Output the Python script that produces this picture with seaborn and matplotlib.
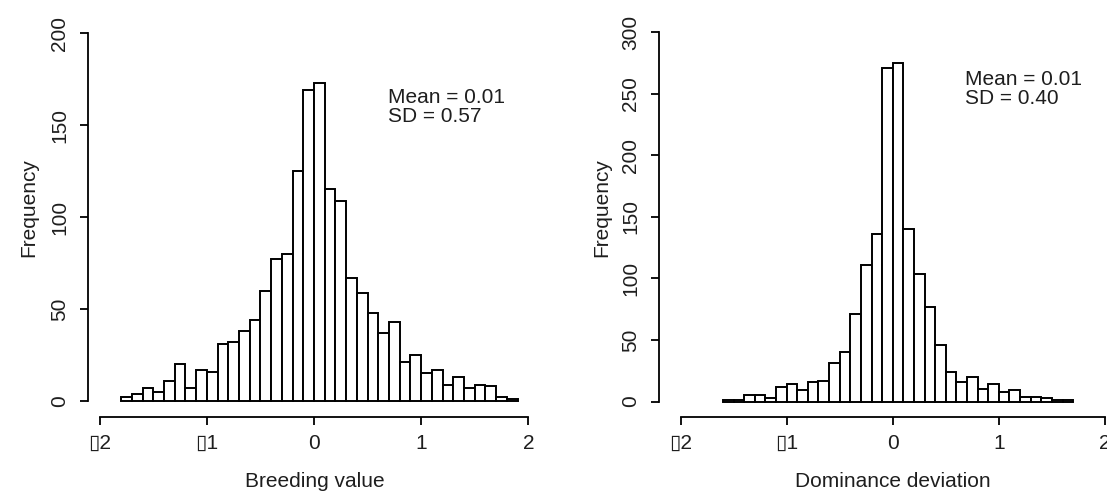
import numpy as np
import matplotlib
matplotlib.use("Agg")
import matplotlib.pyplot as plt
import seaborn as sns

# histogram counts (bin width 0.1, lower edges listed)
breeding_bins = [-1.8, -1.7, -1.6, -1.5, -1.4, -1.3, -1.2, -1.1, -1.0, -0.9,
                 -0.8, -0.7, -0.6, -0.5, -0.4, -0.3, -0.2, -0.1, 0.0, 0.1,
                 0.2, 0.3, 0.4, 0.5, 0.6, 0.7, 0.8, 0.9, 1.0, 1.1,
                 1.2, 1.3, 1.4, 1.5, 1.6, 1.7, 1.8]
breeding_counts = [2, 4, 7, 5, 11, 20, 7, 17, 16, 31,
                   32, 38, 44, 60, 77, 80, 125, 169, 173, 115,
                   109, 67, 59, 48, 37, 43, 21, 25, 15, 17,
                   9, 13, 7, 9, 8, 2, 1]

dominance_bins = [-1.6, -1.5, -1.4, -1.3, -1.2, -1.1, -1.0, -0.9, -0.8, -0.7,
                  -0.6, -0.5, -0.4, -0.3, -0.2, -0.1, 0.0, 0.1, 0.2, 0.3,
                  0.4, 0.5, 0.6, 0.7, 0.8, 0.9, 1.0, 1.1, 1.2, 1.3,
                  1.4, 1.5, 1.6]
dominance_counts = [1, 1, 5, 5, 3, 12, 14, 9, 16, 17,
                    31, 40, 71, 111, 136, 271, 275, 140, 104, 77,
                    46, 24, 16, 20, 10, 14, 8, 9, 4, 4,
                    3, 1, 1]

x_ticks = [-2, -1, 0, 1, 2]
x_tick_labels = ["\u25af2", "\u25af1", "0", "1", "2"]  # minus sign shows as a box in the original
left_yticks = [0, 50, 100, 150, 200]
right_yticks = [0, 50, 100, 150, 200, 250, 300]
left_stats = ["Mean = 0.01", "SD = 0.57"]
right_stats = ["Mean = 0.01", "SD = 0.40"]

sns.set_style("ticks")
plt.rcParams["font.family"] = ["Liberation Sans", "DejaVu Sans"]
plt.rcParams["font.size"] = 15
text_col = "#1e1e1e"

W, H = 1107, 496
fig = plt.figure(figsize=(W / 100, H / 100), dpi=100)
ax1 = fig.add_axes([88 / W, 1 - 416.7 / H, 454.3 / W, 398.9 / H])
ax2 = fig.add_axes([659 / W, 1 - 416.7 / H, 466.8 / W, 398.9 / H])


def draw_hist(ax, bins, counts):
    edges = list(bins) + [round(bins[-1] + 0.1, 1)]
    mids = [b + 0.05 for b in bins]
    sns.histplot(x=mids, weights=counts, bins=edges, ax=ax, stat="count",
                 color="white", edgecolor="black", linewidth=1.4, alpha=1)


draw_hist(ax1, breeding_bins, breeding_counts)
draw_hist(ax2, dominance_bins, dominance_counts)

ax1.set_xlim(-2.109, 2.131)
ax1.set_ylim(-8.5, 208.3)
ax2.set_xlim(-2.203, 2.196)
ax2.set_ylim(-12.3, 311.7)

for ax, yt, stats, sx, sy, lab in [
    (ax1, left_yticks, left_stats, 0.69, (162, 151.8), "Breeding value"),
    (ax2, right_yticks, right_stats, 0.68, (257.2, 241.8), "Dominance deviation"),
]:
    sns.despine(ax=ax)
    ax.spines["left"].set_bounds(yt[0], yt[-1])
    ax.spines["bottom"].set_bounds(x_ticks[0], x_ticks[-1])
    for s in ["left", "bottom"]:
        ax.spines[s].set_linewidth(1.3)
        ax.spines[s].set_color("black")
    ax.set_xticks(x_ticks)
    ax.set_xticklabels(x_tick_labels)
    ax.set_yticks(yt)
    ax.set_yticklabels([str(v) for v in yt], rotation=90, va="center")
    ax.tick_params(axis="both", length=5.5, width=1.3, color="black",
                   labelcolor=text_col, labelsize=15)
    ax.tick_params(axis="x", pad=7)
    ax.tick_params(axis="y", pad=8)
    ax.set_xlabel(lab, color=text_col, fontsize=15)
    ax.set_ylabel("Frequency", color=text_col, fontsize=15)
    ax.text(sx, sy[0], stats[0], color=text_col, fontsize=15, va="baseline")
    ax.text(sx, sy[1], stats[1], color=text_col, fontsize=15, va="baseline")

ax1.xaxis.set_label_coords(0.5, (416.7 - 472) / 398.9)
ax2.xaxis.set_label_coords(0.5, (416.7 - 472) / 398.9)
ax1.yaxis.set_label_coords((38 - 88) / 454.3, 0.524)
ax2.yaxis.set_label_coords((611 - 659) / 466.8, 0.524)

fig.savefig("out.png", dpi=100)
